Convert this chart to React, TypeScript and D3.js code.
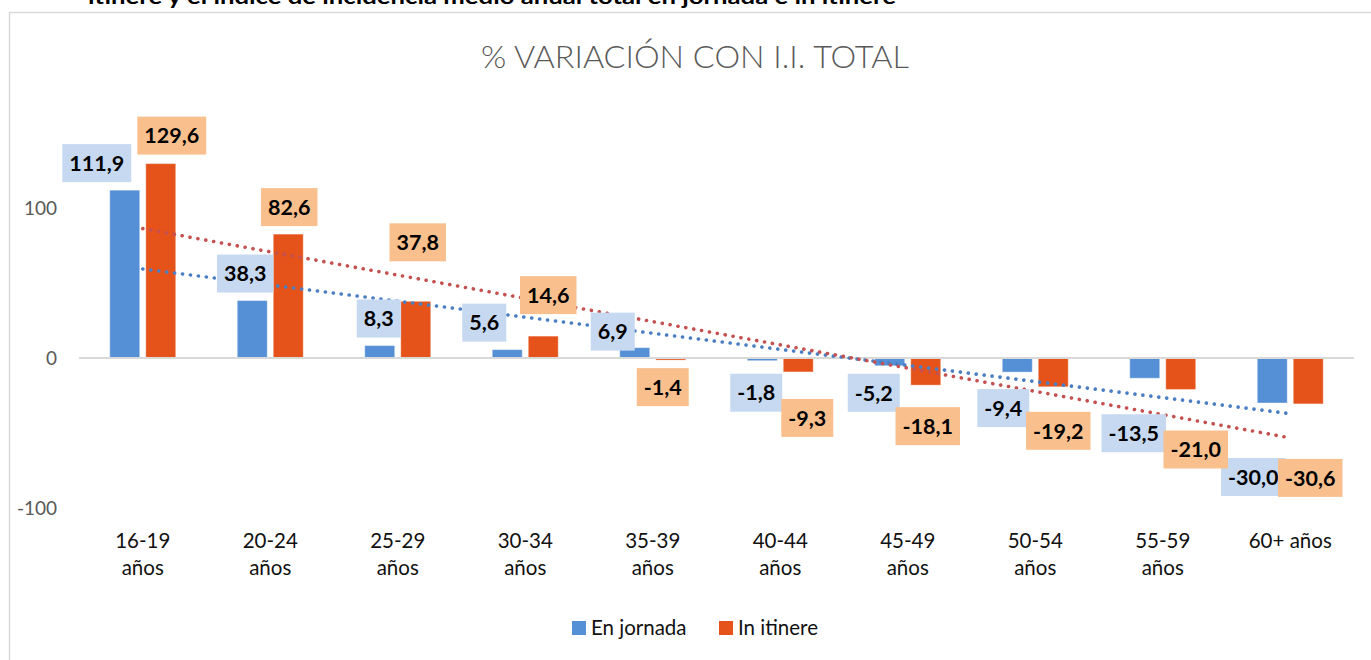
import React, { useEffect, useRef } from 'react';
import * as d3 from 'd3';

const categories = ['16-19 años', '20-24 años', '25-29 años', '30-34 años', '35-39 años', '40-44 años', '45-49 años', '50-54 años', '55-59 años', '60+ años'];
const seriesNames = ['En jornada', 'In itinere'];
const enJornada = [111.9, 38.3, 8.3, 5.6, 6.9, -1.8, -5.2, -9.4, -13.5, -30.0];
const inItinere = [129.6, 82.6, 37.8, 14.6, -1.4, -9.3, -18.1, -19.2, -21.0, -30.6];
const yTicks = [-100, 0, 100];

// manual label placement (px offset from bar end), as moved by hand in the original
const jornadaLabelOffset = [[-28, -27], [-7, -27], [-1, -27], [-23, -27], [-22, -16], [-6, 32], [-16, 27], [-14, 36], [-11, 55], [-19, 74]];
const itinereLabelOffset = [[11, -28], [1, -27], [2, -59], [5, -41], [-8, 27], [9, 46], [2, 41], [5, 44], [15, 60], [2, 74]];

const barColors = ['#5590D6', '#E5531A'];
const labelBg = ['#C6D9F0', '#F9C08E'];
const trendColors = ['#4A7EC4', '#C55050'];

const fmt = (v: number) => v.toFixed(1).replace('.', ',');

// least squares fit over category index 1..n
const linearFit = (vals: number[]) => {
  const n = vals.length;
  const xs = vals.map((_, i) => i + 1);
  const mx = d3.mean(xs) as number;
  const my = d3.mean(vals) as number;
  const sxy = d3.sum(xs, (x, i) => (x - mx) * (vals[i] - my));
  const sxx = d3.sum(xs, x => (x - mx) * (x - mx));
  const b = sxy / sxx;
  const a = my - b * mx;
  return [a + b * 1, a + b * n];
};

const App = () => {
  const ref = useRef<SVGSVGElement>(null);

  useEffect(() => {
    const svg = d3.select(ref.current);
    svg.selectAll('*').remove();
    const font = 'Lato, "Noto Sans", sans-serif';

    // chart border
    svg.append('rect')
      .attr('x', 9.5).attr('y', 12.5)
      .attr('width', 1400).attr('height', 700)
      .attr('fill', '#fff').attr('stroke', '#D9D9D9').attr('stroke-width', 1.5);

    // heading above the chart, cut off by the top edge as in the original
    svg.append('text')
      .attr('x', 88).attr('y', 4)
      .attr('font-family', font).attr('font-weight', 700).attr('font-size', 20)
      .attr('textLength', 808).attr('lengthAdjust', 'spacingAndGlyphs')
      .attr('fill', '#000')
      .text('itinere y el índice de incidencia medio anual total en jornada e in itinere');

    svg.append('text')
      .attr('x', 695).attr('y', 68)
      .attr('text-anchor', 'middle')
      .attr('font-family', font).attr('font-weight', 300).attr('font-size', 32)
      .attr('textLength', 428).attr('lengthAdjust', 'spacingAndGlyphs')
      .attr('fill', '#595959')
      .text('% VARIACIÓN CON I.I. TOTAL');

    const x0 = d3.scaleBand().domain(categories).range([79, 1354]).padding(0);
    const bw = x0.bandwidth();
    const x1 = d3.scaleBand().domain(seriesNames).range([(bw - 66) / 2, (bw + 66) / 2]).paddingInner(1 / 6);
    const y = d3.scaleLinear().domain([-100, 100]).range([508, 208]);

    // y tick labels
    svg.append('g').selectAll('text')
      .data(yTicks).enter().append('text')
      .attr('x', 57).attr('y', d => y(d))
      .attr('dy', '0.35em')
      .attr('text-anchor', 'end')
      .attr('font-family', font).attr('font-size', 19)
      .attr('fill', '#595959')
      .text(d => d);

    const all = [enJornada, inItinere];

    // bars
    all.forEach((vals, s) => {
      svg.append('g').selectAll('rect')
        .data(vals).enter().append('rect')
        .attr('x', (d, i) => (x0(categories[i]) as number) + (x1(seriesNames[s]) as number))
        .attr('y', d => y(Math.max(0, d)))
        .attr('width', x1.bandwidth())
        .attr('height', d => Math.abs(y(d) - y(0)))
        .attr('fill', barColors[s])
        .attr('stroke', '#fff').attr('stroke-opacity', 0.4).attr('stroke-width', 1);
    });

    // zero axis line
    svg.append('line')
      .attr('x1', 79).attr('x2', 1354)
      .attr('y1', y(0)).attr('y2', y(0))
      .attr('stroke', '#D9D9D9').attr('stroke-width', 2);

    // linear trend lines
    all.forEach((vals, s) => {
      const [v0, v1] = linearFit(vals);
      const cx = (c: string) => (x0(c) as number) + bw / 2;
      svg.append('line')
        .attr('x1', cx(categories[0])).attr('y1', y(v0))
        .attr('x2', cx(categories[categories.length - 1])).attr('y2', y(v1))
        .attr('stroke', trendColors[s]).attr('stroke-width', 3.6)
        .attr('stroke-linecap', 'round')
        .attr('stroke-dasharray', '0.1 7.9');
    });

    // data labels
    const offsets = [jornadaLabelOffset, itinereLabelOffset];
    all.forEach((vals, s) => {
      vals.forEach((v, i) => {
        const bx = (x0(categories[i]) as number) + (x1(seriesNames[s]) as number) + x1.bandwidth() / 2;
        const cx = bx + offsets[s][i][0];
        const cy = y(v) + offsets[s][i][1];
        const g = svg.append('g');
        const rect = g.append('rect').attr('fill', labelBg[s]);
        const t = g.append('text')
          .attr('x', cx).attr('y', cy)
          .attr('dy', '0.36em')
          .attr('text-anchor', 'middle')
          .attr('font-family', font).attr('font-weight', 700).attr('font-size', 21.5)
          .attr('fill', '#000')
          .text(fmt(v));
        const w = (t.node() as SVGTextElement).getComputedTextLength() + 14;
        rect.attr('x', cx - w / 2).attr('y', cy - 19).attr('width', w).attr('height', 38);
      });
    });

    // category labels (two lines)
    const cat = svg.append('g');
    categories.forEach(c => {
      const cx = (x0(c) as number) + bw / 2;
      const parts = c === '60+ años' ? [c] : c.split(' ');
      parts.forEach((p, k) => {
        cat.append('text')
          .attr('x', cx).attr('y', 548 + k * 27)
          .attr('text-anchor', 'middle')
          .attr('font-family', font).attr('font-size', 20.5)
          .attr('fill', '#111')
          .text(p);
      });
    });

    // legend
    const legendX = [572, 719];
    seriesNames.forEach((n, s) => {
      svg.append('rect')
        .attr('x', legendX[s]).attr('y', 621)
        .attr('width', 14).attr('height', 14)
        .attr('fill', barColors[s]);
      svg.append('text')
        .attr('x', legendX[s] + 19).attr('y', 635)
        .attr('font-family', font).attr('font-size', 20.5)
        .attr('fill', '#111')
        .text(n);
    });
  }, []);

  return (
    <div style={{ position: 'absolute', left: 0, top: 0 }}>
      <svg ref={ref} width={1371} height={660} />
    </div>
  );
};

export default App;
